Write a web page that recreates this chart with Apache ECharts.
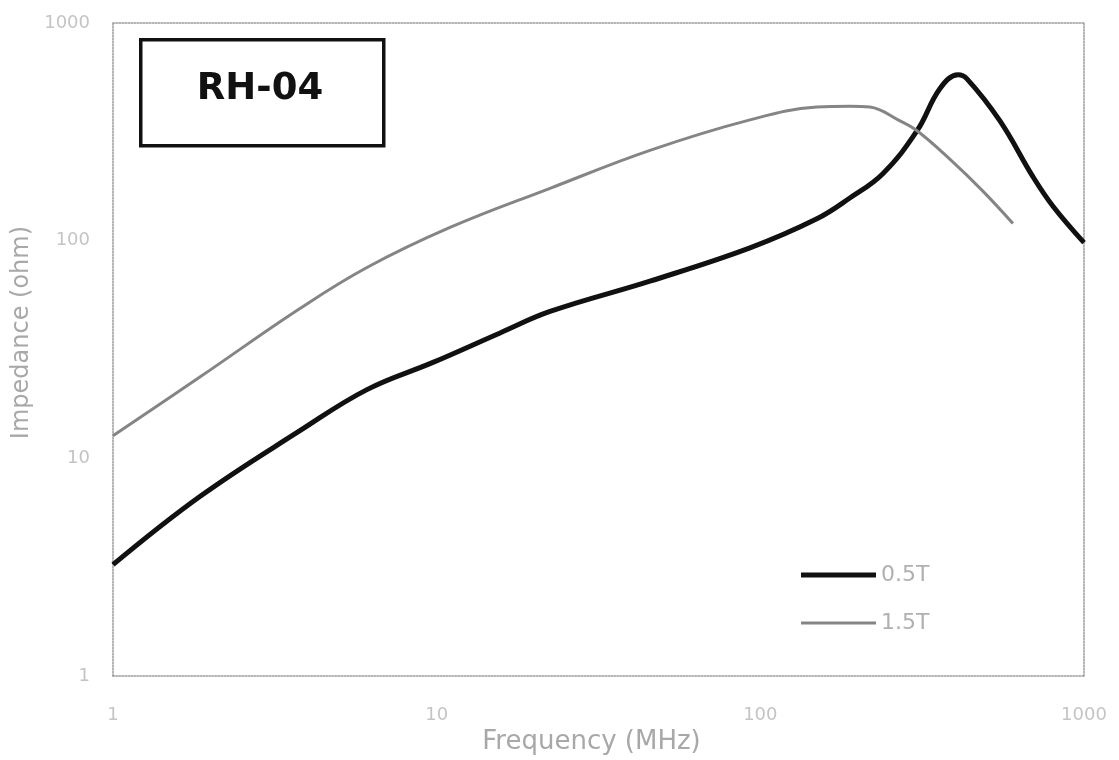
<!DOCTYPE html>
<html>
<head>
<meta charset="utf-8">
<script src="https://cdn.jsdelivr.net/npm/echarts@6/dist/echarts.min.js"></script>
<style>html,body{margin:0;padding:0;background:#fff;overflow:hidden}#c{width:1119px;height:760px}</style>
</head>
<body>
<div id="c"></div>
<script>
// Frequency (MHz) / Impedance (ohm) pairs
const freq05 = [1, 1.86, 3.78, 6.09, 9.74, 15.7, 22.4, 45.6, 92.9, 149.5, 189, 239, 305, 359, 408, 435, 550, 695, 802, 1000];
const imp05  = [3.25, 6.7, 13.4, 20.7, 27.6, 37.7, 47.3, 65.2, 92.7, 126, 157, 203, 320, 500, 578, 554, 355, 197, 144, 98];
const freq15 = [1, 1.86, 3.78, 6.09, 11.0, 22.4, 45.6, 92.9, 149.5, 189, 218, 270, 305, 385, 487, 603];
const imp15  = [12.7, 23.7, 48.8, 75.3, 115, 174, 260, 359, 411, 415, 411, 355, 320, 237, 169, 120];
const seriesNames = ['0.5T', '1.5T'];
const tickLabels = ['1', '10', '100', '1000'];
const chartLabel = 'RH-04';
const xName = 'Frequency (MHz)';
const yName = 'Impedance (ohm)';

const pairs = (xs, ys) => xs.map((x, i) => [x, ys[i]]);
const font = '"DejaVu Sans", sans-serif';
const dotted = { color: '#9a9a9a', type: 'dotted', width: 1.5 };
const tickFmt = v => { const s = String(Math.round(v)); return tickLabels.includes(s) ? s : ''; };

const chart = echarts.init(document.getElementById('c'));
chart.setOption({
  backgroundColor: '#fff',
  animation: false,
  grid: { left: 113, right: 35, top: 23, bottom: 69 },
  xAxis: [{
    type: 'log', min: 1, max: 1000, logBase: 10,
    name: xName, nameLocation: 'middle', nameGap: 38,
    nameTextStyle: { color: '#a8a8a8', fontSize: 26, fontFamily: font, padding: [0, 14, 0, 0] },
    axisLine: { show: true, lineStyle: dotted },
    axisTick: { show: false },
    splitLine: { show: false },
    axisLabel: { color: '#c4c4c4', fontSize: 18, fontFamily: font, margin: 30, formatter: tickFmt }
  }, {
    type: 'log', min: 1, max: 1000, position: 'top',
    axisLine: { show: true, lineStyle: dotted },
    axisTick: { show: false }, axisLabel: { show: false }, splitLine: { show: false }
  }],
  yAxis: [{
    type: 'log', min: 1, max: 1000, logBase: 10,
    name: yName, nameLocation: 'middle', nameGap: 76,
    nameTextStyle: { color: '#a8a8a8', fontSize: 24, fontFamily: font, padding: [0, 0, 0, 34] },
    axisLine: { show: true, lineStyle: dotted },
    axisTick: { show: false },
    splitLine: { show: false },
    axisLabel: { color: '#c4c4c4', fontSize: 18, fontFamily: font, margin: 23, padding: [0, 0, 6, 0], formatter: tickFmt }
  }, {
    type: 'log', min: 1, max: 1000, position: 'right',
    axisLine: { show: true, lineStyle: dotted },
    axisTick: { show: false }, axisLabel: { show: false }, splitLine: { show: false }
  }],
  legend: [{
    left: 801, top: 564, orient: 'vertical', icon: 'rect', padding: 0,
    itemWidth: 75, itemHeight: 5,
    data: [seriesNames[0]],
    textStyle: { color: '#b0b0b0', fontSize: 22, fontFamily: font }
  }, {
    left: 801, top: 612, orient: 'vertical', icon: 'rect', padding: 0,
    itemWidth: 75, itemHeight: 3,
    data: [seriesNames[1]],
    textStyle: { color: '#b0b0b0', fontSize: 22, fontFamily: font }
  }],
  graphic: [{
    type: 'rect', left: 139, top: 38, z: 10,
    shape: { width: 243, height: 106 },
    style: { fill: '#fff', stroke: '#111', lineWidth: 3.5 }
  }, {
    type: 'text', x: 260, y: 89, z: 11,
    style: { text: chartLabel, fill: '#111', font: 'bold 37px ' + font, textAlign: 'center', textVerticalAlign: 'middle' }
  }],
  series: [{
    name: seriesNames[0], type: 'line', smooth: 0.4, showSymbol: false,
    data: pairs(freq05, imp05),
    lineStyle: { color: '#111', width: 5 }, itemStyle: { color: '#111' }
  }, {
    name: seriesNames[1], type: 'line', smooth: 0.4, showSymbol: false,
    data: pairs(freq15, imp15),
    lineStyle: { color: '#858585', width: 3 }, itemStyle: { color: '#858585' }
  }]
});
</script>
</body>
</html>
